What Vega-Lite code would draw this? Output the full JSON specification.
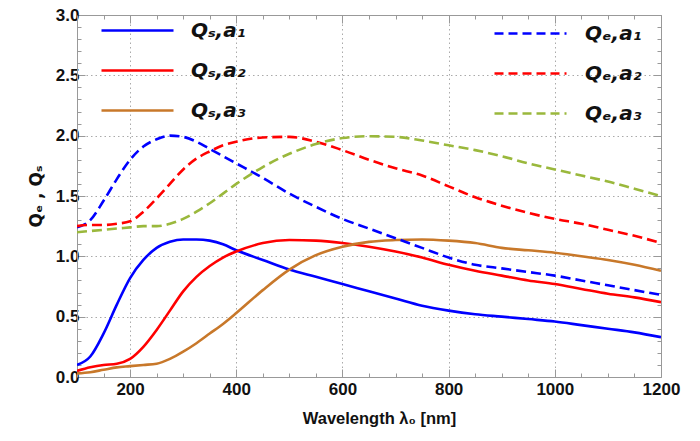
{
  "$schema": "https://vega.github.io/schema/vega-lite/v6.json",
  "width": 584,
  "height": 362,
  "autosize": "none",
  "padding": {"left": 77, "top": 15, "right": 39, "bottom": 64},
  "background": "white",
  "config": {"view": {"stroke": null}, "font": "Liberation Sans"},
  "data": {"values": [
    {"lambda": 100, "Qs1": 0.10, "Qs2": 0.05, "Qs3": 0.03, "Qe1": 1.24, "Qe2": 1.25, "Qe3": 1.20},
    {"lambda": 125, "Qs1": 0.17, "Qs2": 0.08, "Qs3": 0.04, "Qe1": 1.30, "Qe2": 1.26, "Qe3": 1.21},
    {"lambda": 150, "Qs1": 0.36, "Qs2": 0.10, "Qs3": 0.06, "Qe1": 1.46, "Qe2": 1.26, "Qe3": 1.22},
    {"lambda": 175, "Qs1": 0.60, "Qs2": 0.11, "Qs3": 0.08, "Qe1": 1.64, "Qe2": 1.27, "Qe3": 1.23},
    {"lambda": 200, "Qs1": 0.82, "Qs2": 0.15, "Qs3": 0.09, "Qe1": 1.80, "Qe2": 1.29, "Qe3": 1.24},
    {"lambda": 225, "Qs1": 0.97, "Qs2": 0.25, "Qs3": 0.10, "Qe1": 1.91, "Qe2": 1.37, "Qe3": 1.25},
    {"lambda": 250, "Qs1": 1.07, "Qs2": 0.39, "Qs3": 0.11, "Qe1": 1.97, "Qe2": 1.48, "Qe3": 1.25},
    {"lambda": 275, "Qs1": 1.12, "Qs2": 0.55, "Qs3": 0.15, "Qe1": 2.00, "Qe2": 1.60, "Qe3": 1.27},
    {"lambda": 300, "Qs1": 1.14, "Qs2": 0.71, "Qs3": 0.21, "Qe1": 1.99, "Qe2": 1.72, "Qe3": 1.31},
    {"lambda": 325, "Qs1": 1.14, "Qs2": 0.83, "Qs3": 0.28, "Qe1": 1.95, "Qe2": 1.81, "Qe3": 1.37},
    {"lambda": 350, "Qs1": 1.13, "Qs2": 0.92, "Qs3": 0.36, "Qe1": 1.89, "Qe2": 1.87, "Qe3": 1.44},
    {"lambda": 375, "Qs1": 1.10, "Qs2": 0.99, "Qs3": 0.44, "Qe1": 1.83, "Qe2": 1.92, "Qe3": 1.52},
    {"lambda": 400, "Qs1": 1.05, "Qs2": 1.04, "Qs3": 0.53, "Qe1": 1.77, "Qe2": 1.95, "Qe3": 1.60},
    {"lambda": 450, "Qs1": 0.97, "Qs2": 1.11, "Qs3": 0.72, "Qe1": 1.65, "Qe2": 1.985, "Qe3": 1.74},
    {"lambda": 500, "Qs1": 0.89, "Qs2": 1.135, "Qs3": 0.89, "Qe1": 1.52, "Qe2": 1.99, "Qe3": 1.85},
    {"lambda": 550, "Qs1": 0.83, "Qs2": 1.13, "Qs3": 1.01, "Qe1": 1.41, "Qe2": 1.95, "Qe3": 1.93},
    {"lambda": 600, "Qs1": 0.77, "Qs2": 1.11, "Qs3": 1.08, "Qe1": 1.31, "Qe2": 1.88, "Qe3": 1.98},
    {"lambda": 650, "Qs1": 0.71, "Qs2": 1.08, "Qs3": 1.12, "Qe1": 1.23, "Qe2": 1.80, "Qe3": 1.995},
    {"lambda": 700, "Qs1": 0.65, "Qs2": 1.04, "Qs3": 1.135, "Qe1": 1.15, "Qe2": 1.73, "Qe3": 1.99},
    {"lambda": 750, "Qs1": 0.59, "Qs2": 0.99, "Qs3": 1.14, "Qe1": 1.07, "Qe2": 1.67, "Qe3": 1.96},
    {"lambda": 800, "Qs1": 0.55, "Qs2": 0.93, "Qs3": 1.13, "Qe1": 0.99, "Qe2": 1.58, "Qe3": 1.92},
    {"lambda": 850, "Qs1": 0.52, "Qs2": 0.88, "Qs3": 1.11, "Qe1": 0.93, "Qe2": 1.49, "Qe3": 1.88},
    {"lambda": 900, "Qs1": 0.50, "Qs2": 0.84, "Qs3": 1.07, "Qe1": 0.90, "Qe2": 1.42, "Qe3": 1.83},
    {"lambda": 950, "Qs1": 0.48, "Qs2": 0.80, "Qs3": 1.05, "Qe1": 0.87, "Qe2": 1.36, "Qe3": 1.77},
    {"lambda": 1000, "Qs1": 0.46, "Qs2": 0.77, "Qs3": 1.03, "Qe1": 0.84, "Qe2": 1.31, "Qe3": 1.72},
    {"lambda": 1050, "Qs1": 0.43, "Qs2": 0.73, "Qs3": 1.00, "Qe1": 0.80, "Qe2": 1.27, "Qe3": 1.67},
    {"lambda": 1100, "Qs1": 0.40, "Qs2": 0.69, "Qs3": 0.97, "Qe1": 0.76, "Qe2": 1.22, "Qe3": 1.62},
    {"lambda": 1150, "Qs1": 0.37, "Qs2": 0.66, "Qs3": 0.93, "Qe1": 0.72, "Qe2": 1.17, "Qe3": 1.56},
    {"lambda": 1200, "Qs1": 0.33, "Qs2": 0.62, "Qs3": 0.88, "Qe1": 0.68, "Qe2": 1.11, "Qe3": 1.50}
  ]},
  "layer": [
    {
      "transform": [{"fold": ["Qs1", "Qs2", "Qs3"], "as": ["series", "value"]}],
      "mark": {"type": "line", "strokeWidth": 2.6, "interpolate": "monotone", "clip": true},
      "encoding": {
        "x": {"field": "lambda", "type": "quantitative",
          "scale": {"domain": [100, 1200], "nice": false, "zero": false},
          "axis": {"orient": "bottom", "values": [100,150,200,250,300,350,400,450,500,550,600,650,700,750,800,850,900,950,1000,1050,1100,1150,1200],
            "format": "d",
            "labelExpr": "datum.value % 200 == 0 ? datum.label : ''",
            "tickSize": {"condition": {"test": "datum.value % 200 == 0", "value": -8}, "value": -4},
            "tickColor": "#999999", "domainColor": "#999999", "domainWidth": 1,
            "grid": true, "gridColor": "#aaaaaa", "gridDash": [1.5, 3], "gridWidth": 1,
            "gridOpacity": {"condition": {"test": "datum.value % 200 == 0", "value": 1}, "value": 0},
            "labelFont": "Liberation Sans", "labelFontWeight": "bold", "labelFontSize": 17, "labelColor": "#111111",
            "labelPadding": 12, "labelFlush": false,
            "title": "Wavelength λ₀ [nm]", "titleFont": "Liberation Sans", "titleFontWeight": "bold", "titleFontSize": 16.5,
            "titleColor": "#111111", "titlePadding": 13, "titleX": 302}},
        "y": {"field": "value", "type": "quantitative",
          "scale": {"domain": [0, 3], "nice": false},
          "axis": {"orient": "left", "values": [0,0.1,0.2,0.3,0.4,0.5,0.6,0.7,0.8,0.9,1.0,1.1,1.2,1.3,1.4,1.5,1.6,1.7,1.8,1.9,2.0,2.1,2.2,2.3,2.4,2.5,2.6,2.7,2.8,2.9,3.0],
            "format": ".1f",
            "labelExpr": "abs(datum.value*2 - round(datum.value*2)) < 0.01 ? datum.label : ''",
            "tickSize": {"condition": {"test": "abs(datum.value*2 - round(datum.value*2)) < 0.01", "value": -8}, "value": -4},
            "tickColor": "#999999", "domainColor": "#999999", "domainWidth": 1,
            "grid": true, "gridColor": "#aaaaaa", "gridDash": [1.5, 3], "gridWidth": 1,
            "gridOpacity": {"condition": {"test": "abs(datum.value*2 - round(datum.value*2)) < 0.01 && datum.value > 0.01", "value": 1}, "value": 0},
            "labelFont": "Liberation Sans", "labelFontWeight": "bold", "labelFontSize": 17, "labelColor": "#111111",
            "labelPadding": 6, "labelFlush": false,
            "title": "Qₑ , Qₛ", "titleFont": "DejaVu Sans", "titleFontWeight": "bold", "titleFontSize": 17,
            "titleColor": "#111111", "titlePadding": 10}},
        "color": {"field": "series", "type": "nominal",
          "scale": {"domain": ["Qs1", "Qs2", "Qs3"], "range": ["#0000ff", "#ff0000", "#c8782a"]},
          "legend": {"orient": "none", "legendX": 50, "legendY": 5, "title": null,
            "symbolType": "M-4,0H4", "symbolSize": 324, "symbolStrokeWidth": 2.6,
            "labelOffset": 43, "rowPadding": 19,
            "labelFont": "DejaVu Sans", "labelFontSize": 20, "labelFontWeight": "bold", "labelFontStyle": "italic", "labelColor": "#111111",
            "labelExpr": "datum.label == 'Qs1' ? 'Qₛ,a₁' : datum.label == 'Qs2' ? 'Qₛ,a₂' : 'Qₛ,a₃'"}}
      }
    },
    {
      "transform": [{"fold": ["Qe1", "Qe2", "Qe3"], "as": ["series", "value"]}],
      "mark": {"type": "line", "strokeWidth": 2.6, "interpolate": "monotone", "strokeDash": [10, 5], "clip": true},
      "encoding": {
        "x": {"field": "lambda", "type": "quantitative",
          "axis": {"orient": "top", "values": [100,150,200,250,300,350,400,450,500,550,600,650,700,750,800,850,900,950,1000,1050,1100,1150,1200],
            "labels": false, "title": null, "grid": false,
            "tickSize": {"condition": {"test": "datum.value % 200 == 0", "value": -8}, "value": -4},
            "tickColor": "#999999", "domainColor": "#999999", "domainWidth": 1}},
        "y": {"field": "value", "type": "quantitative",
          "axis": {"orient": "right", "values": [0,0.1,0.2,0.3,0.4,0.5,0.6,0.7,0.8,0.9,1.0,1.1,1.2,1.3,1.4,1.5,1.6,1.7,1.8,1.9,2.0,2.1,2.2,2.3,2.4,2.5,2.6,2.7,2.8,2.9,3.0],
            "labels": false, "title": null, "grid": false,
            "tickSize": {"condition": {"test": "abs(datum.value*2 - round(datum.value*2)) < 0.01", "value": -8}, "value": -4},
            "tickColor": "#999999", "domainColor": "#999999", "domainWidth": 1}},
        "stroke": {"field": "series", "type": "nominal",
          "scale": {"domain": ["Qe1", "Qe2", "Qe3"], "range": ["#0000ff", "#ff0000", "#9ab83c"]},
          "legend": {"orient": "none", "legendX": 443, "legendY": 8, "title": null,
            "symbolType": "M-4,0H4", "symbolSize": 324, "symbolStrokeWidth": 2.6, "symbolDash": [9, 5],
            "labelOffset": 44, "rowPadding": 19,
            "labelFont": "DejaVu Sans", "labelFontSize": 20, "labelFontWeight": "bold", "labelFontStyle": "italic", "labelColor": "#111111",
            "labelExpr": "datum.label == 'Qe1' ? 'Qₑ,a₁' : datum.label == 'Qe2' ? 'Qₑ,a₂' : 'Qₑ,a₃'"}}
      }
    }
  ],
  "resolve": {"axis": {"x": "independent", "y": "independent"}}
}
